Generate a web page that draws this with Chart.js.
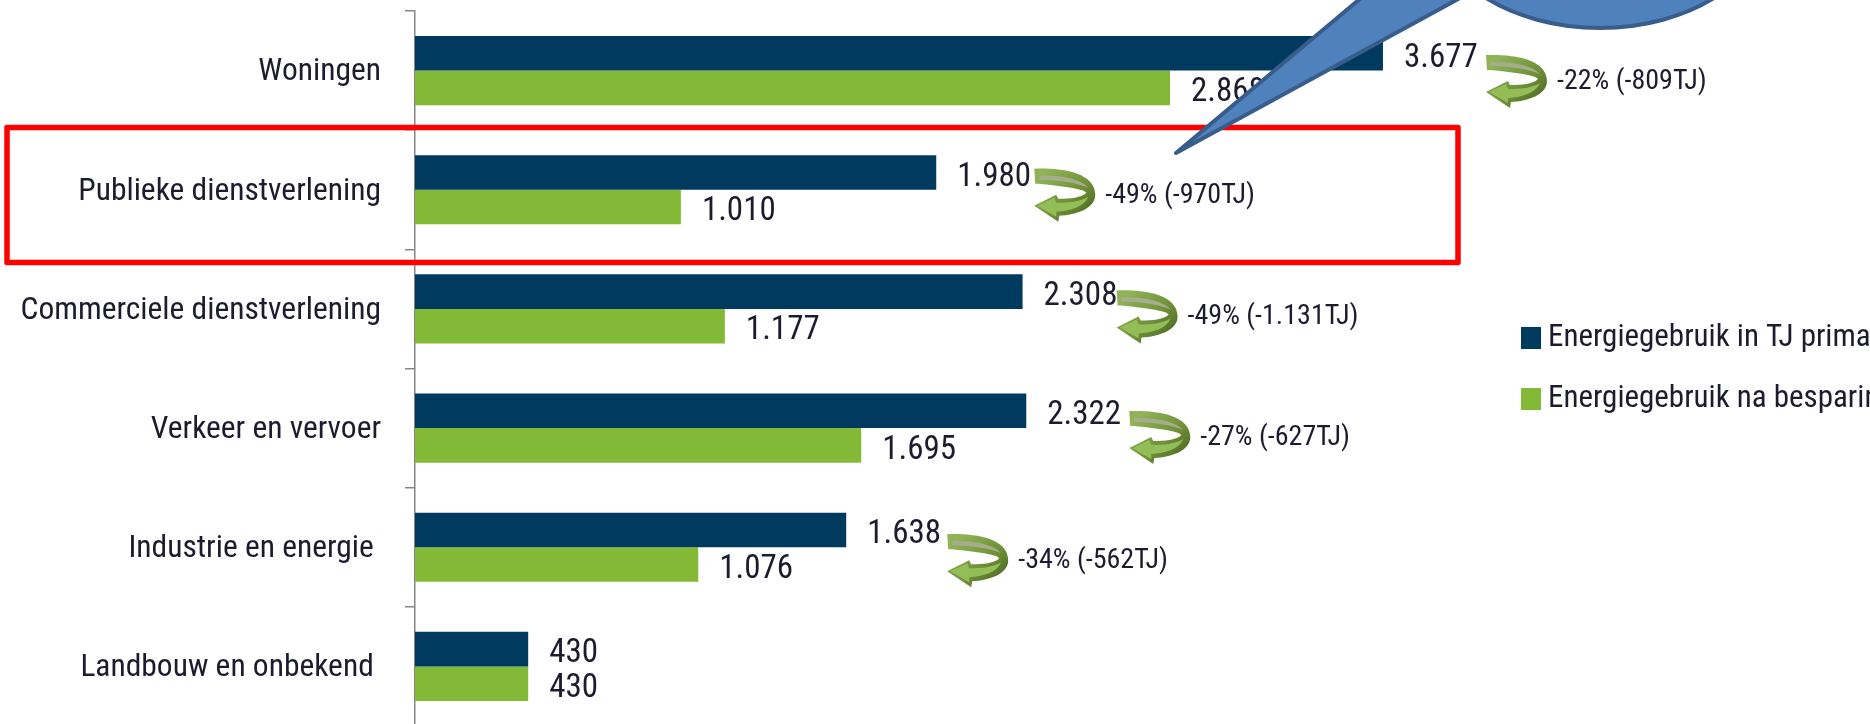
<!DOCTYPE html>
<html lang="nl">
<head>
<meta charset="utf-8">
<title>Energiegebruik per sector</title>
<script src="https://cdn.jsdelivr.net/npm/chart.js@4"></script>
<style>
html,body{margin:0;padding:0;background:#fff;overflow:hidden}
#wrap{position:relative;width:1870px;height:724px;overflow:hidden}
canvas{display:block;filter:blur(0.5px)}
</style>
</head>
<body>
<div id="wrap"><canvas id="c" width="1870" height="726"></canvas></div>
<script>
const categories = ['Woningen','Publieke dienstverlening','Commerciele dienstverlening','Verkeer en vervoer','Industrie en energie ','Landbouw en onbekend '];
const primaryTJ = [3677,1980,2308,2322,1638,430];
const afterSavingTJ = [2868,1010,1177,1695,1076,430];
const savingLabels = ['-22% (-809TJ)','-49% (-970TJ)','-49% (-1.131TJ)','-27% (-627TJ)','-34% (-562TJ)',null];
const seriesNames = ['Energiegebruik in TJ primair','Energiegebruik na besparing'];

const NAVY = '#003B5F', GREEN = '#82B936', INK = '#1c1c2e';
const FONT = '"Liberation Sans Narrow","Roboto Condensed","Liberation Sans",sans-serif';
// offsets of each saving arrow from the end of the navy bar / centre of the band
const arrowDX = [103,98,94,103,101];
const arrowDY = [-15.5,-21,-18.5,-17,-13];

const fmt = v => v >= 1000 ? Math.floor(v/1000) + '.' + String(v%1000).padStart(3,'0') : String(v);

function arrowAt(ctx,x,y){
  ctx.save();
  ctx.translate(x,y);
  const body = new Path2D('M0,0 C25,-1 61,3 61,26 C61,40 42,46 25,47 L24,53 L0,37 L22,26 L24,30 C35,30 48,29 52,24 C50,20 25,17 5,15 L1,15 Z');
  const g = ctx.createLinearGradient(10,5,50,50);
  g.addColorStop(0,'#8FB356'); g.addColorStop(.6,'#6F8F38'); g.addColorStop(1,'#4E6B25');
  ctx.fillStyle = g; ctx.fill(body);
  ctx.fillStyle = '#A5AD8A';
  ctx.fill(new Path2D('M5,7 C25,6 46,10 54,19 C44,14 22,11 5,11 Z'));
  ctx.fillStyle = '#93BE57';
  ctx.fill(new Path2D('M3,37 L20,29 L22,34 C34,34 46,33 54,28 C50,38 36,42 22,43 L22,48 Z'));
  ctx.restore();
}

const decorations = {
  id:'decorations',
  afterDatasetsDraw(chart){
    const {ctx} = chart;
    const navy = chart.getDatasetMeta(0).data, green = chart.getDatasetMeta(1).data;
    const yScale = chart.scales.y;
    ctx.save();
    ctx.textBaseline = 'middle'; ctx.textAlign = 'left'; ctx.fillStyle = INK;
    ctx.font = '33px '+FONT;
    primaryTJ.forEach((v,i)=>ctx.fillText(fmt(v),navy[i].x+21,navy[i].y+5));
    afterSavingTJ.forEach((v,i)=>ctx.fillText(fmt(v),green[i].x+21,green[i].y+5));
    // saving arrows and labels
    savingLabels.forEach((t,i)=>{
      if(!t) return;
      const ax = navy[i].x+arrowDX[i], ay = yScale.getPixelForValue(i)+arrowDY[i];
      arrowAt(ctx,ax,ay);
      ctx.fillStyle = INK; ctx.font = '28px '+FONT;
      ctx.fillText(t,ax+71,ay+27);
    });
    // legend
    ctx.font = '31px '+FONT;
    chart.data.datasets.forEach((d,i)=>{
      const top = i===0 ? 327 : 388;
      ctx.fillStyle = d.backgroundColor; ctx.fillRect(1521,top,20,22);
      ctx.fillStyle = INK; ctx.fillText(d.label,1548,top+11);
    });
    // red highlight frame
    ctx.strokeStyle = '#FF0000'; ctx.lineWidth = 5.5; ctx.lineJoin = 'round';
    ctx.strokeRect(7,127.5,1451,135);
    // speech-bubble callout, cut by the top of the picture
    ctx.beginPath();
    ctx.moveTo(1176,153);
    ctx.lineTo(1361,-2);
    ctx.lineTo(1460,-2);
    ctx.closePath();
    ctx.fillStyle = '#4F81BD'; ctx.strokeStyle = '#385D8A'; ctx.lineWidth = 4; ctx.lineJoin='round';
    ctx.fill(); ctx.stroke();
    ctx.beginPath();
    ctx.ellipse(1600,-90,171,118,0,0,Math.PI*2);
    ctx.fill(); ctx.stroke();
    ctx.restore();
  }
};

new Chart(document.getElementById('c'),{
  type:'bar',
  data:{
    labels:categories,
    datasets:[
      {label:seriesNames[0],data:primaryTJ,backgroundColor:NAVY,borderWidth:0,categoryPercentage:.58,barPercentage:1},
      {label:seriesNames[1],data:afterSavingTJ,backgroundColor:GREEN,borderWidth:0,categoryPercentage:.58,barPercentage:1}
    ]
  },
  options:{
    indexAxis:'y',
    responsive:false,
    animation:false,
    layout:{padding:{top:11,right:402,bottom:0,left:0}},
    plugins:{legend:{display:false},tooltip:{enabled:false},title:{display:false}},
    scales:{
      x:{display:false,min:0,max:4000},
      y:{
        afterFit(s){s.width=415;s.paddingTop=0;s.paddingBottom=0;},
        grid:{display:true,offset:true,drawOnChartArea:false,drawTicks:true,tickLength:10,color:'#868686',lineWidth:1.5},
        border:{display:true,color:'#868686',width:1.5},
        ticks:{color:INK,font:{family:FONT,size:31.5},padding:24,autoSkip:false,labelOffset:2}
      }
    }
  },
  plugins:[decorations]
});
</script>
</body>
</html>
